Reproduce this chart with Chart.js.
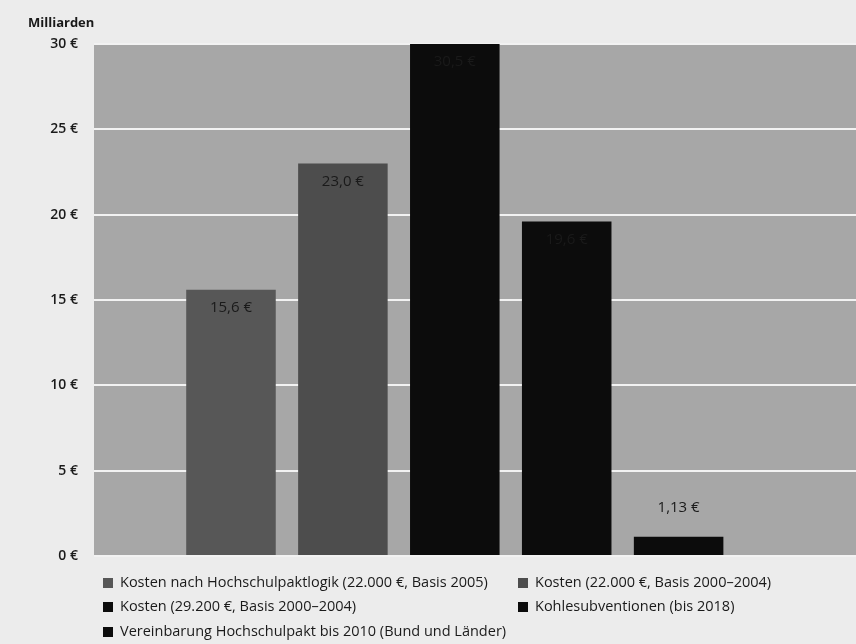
<!DOCTYPE html>
<html lang="de">
<head>
<meta charset="utf-8">
<script src="https://cdn.jsdelivr.net/npm/chart.js@4/dist/chart.umd.min.js"></script>
<style>
  html, body { margin: 0; padding: 0; background: #ececec; }
  #wrap { position: relative; width: 856px; height: 644px; }
  #legend { position: absolute; left: 0; top: 0; width: 856px; height: 644px; pointer-events: none;
            font-family: "Open Sans", "Noto Sans", sans-serif; font-size: 14.5px; color: #1a1a1a; }
  .item { position: absolute; white-space: nowrap; line-height: 18px; }
  .sw { display: inline-block; width: 10px; height: 10px; margin-right: 7px; vertical-align: -0.5px; }
</style>
</head>
<body>
<div id="wrap">
  <canvas id="c" width="856" height="644"></canvas>
  <div id="legend"></div>
</div>
<script>
// Series names (one bar each), values in billions of euros, bar colours
const seriesNames = [
  'Kosten nach Hochschulpaktlogik (22.000 €, Basis 2005)',
  'Kosten (22.000 €, Basis 2000–2004)',
  'Kosten (29.200 €, Basis 2000–2004)',
  'Kohlesubventionen (bis 2018)',
  'Vereinbarung Hochschulpakt bis 2010 (Bund und Länder)'
];
const values = [15.6, 23.0, 30.5, 19.6, 1.13];
const barColors = ['#575757', '#4d4d4d', '#0c0c0c', '#0c0c0c', '#0c0c0c'];
const yTicks = [0, 5, 10, 15, 20, 25, 30];
const axisTitle = 'Milliarden';

// Legend placement: two columns, filled row by row
const legendCols = [103, 518];
const legendRows = [573, 597, 622];

// bar slots along the horizontal axis, one per series
const slots = seriesNames.map((_, i) => i + 1);

const fmt = v => v.toLocaleString('de-DE', { minimumFractionDigits: 1, maximumFractionDigits: 2 }) + ' €';

const datasets = seriesNames.map((name, i) => ({
  label: name,
  data: [{ x: slots[i], y: values[i] }],
  backgroundColor: barColors[i],
  grouped: false,
  categoryPercentage: 0.8,
  barPercentage: 1.0
}));

const plotBackground = {
  id: 'plotBackground',
  beforeDraw(chart) {
    const { ctx, chartArea: a } = chart;
    ctx.save();
    ctx.fillStyle = '#a7a7a7';
    ctx.fillRect(a.left, a.top, a.right - a.left, a.bottom - a.top);
    ctx.restore();
  }
};

const valueLabels = {
  id: 'valueLabels',
  afterDatasetsDraw(chart) {
    const { ctx, chartArea: a } = chart;
    ctx.save();
    ctx.font = '15px "Open Sans", "Noto Sans", sans-serif';
    ctx.fillStyle = '#1a1a1a';
    ctx.textAlign = 'center';
    ctx.textBaseline = 'middle';
    chart.data.datasets.forEach((ds, i) => {
      const el = chart.getDatasetMeta(i).data[0];
      const v = ds.data[0].y;
      const top = Math.max(el.y, a.top);
      const y = v < 3 ? top - 29 : top + 18;
      ctx.fillText(fmt(v), el.x, y);
    });
    ctx.restore();
  }
};

const titleText = {
  id: 'titleText',
  afterDraw(chart) {
    const { ctx } = chart;
    ctx.save();
    ctx.font = 'bold 13px "Open Sans", "Noto Sans", sans-serif';
    ctx.fillStyle = '#1a1a1a';
    ctx.textBaseline = 'middle';
    ctx.fillText(axisTitle, 28, 23);
    ctx.restore();
  }
};

new Chart(document.getElementById('c'), {
  type: 'bar',
  data: { datasets },
  options: {
    responsive: false,
    animation: false,
    layout: { padding: { top: 44, bottom: 88, left: 0, right: 0 } },
    plugins: { legend: { display: false }, tooltip: { enabled: false } },
    scales: {
      x: {
        type: 'linear',
        min: -0.224,
        max: 6.585,
        offset: false,
        display: false,
        afterBuildTicks(scale) { scale.ticks = slots.map(v => ({ value: v })); }
      },
      y: {
        min: 0,
        max: 30,
        afterFit(scale) { scale.width = 94; },
        afterBuildTicks(scale) { scale.ticks = yTicks.map(v => ({ value: v })); },
        border: { display: false },
        grid: { color: '#f2f2f2', lineWidth: 2, drawTicks: false },
        ticks: {
          padding: 16,
          color: '#1a1a1a',
          font: { family: '"Open Sans", "Noto Sans", sans-serif', size: 14, weight: '600' },
          callback: v => v + ' €'
        }
      }
    }
  },
  plugins: [plotBackground, valueLabels, titleText]
});

// HTML legend
const legend = document.getElementById('legend');
seriesNames.forEach((name, i) => {
  const d = document.createElement('div');
  d.className = 'item';
  d.style.left = legendCols[i % 2] + 'px';
  d.style.top = legendRows[Math.floor(i / 2)] + 'px';
  const sw = document.createElement('span');
  sw.className = 'sw';
  sw.style.background = barColors[i];
  d.appendChild(sw);
  d.appendChild(document.createTextNode(name));
  legend.appendChild(d);
});
</script>
</body>
</html>
